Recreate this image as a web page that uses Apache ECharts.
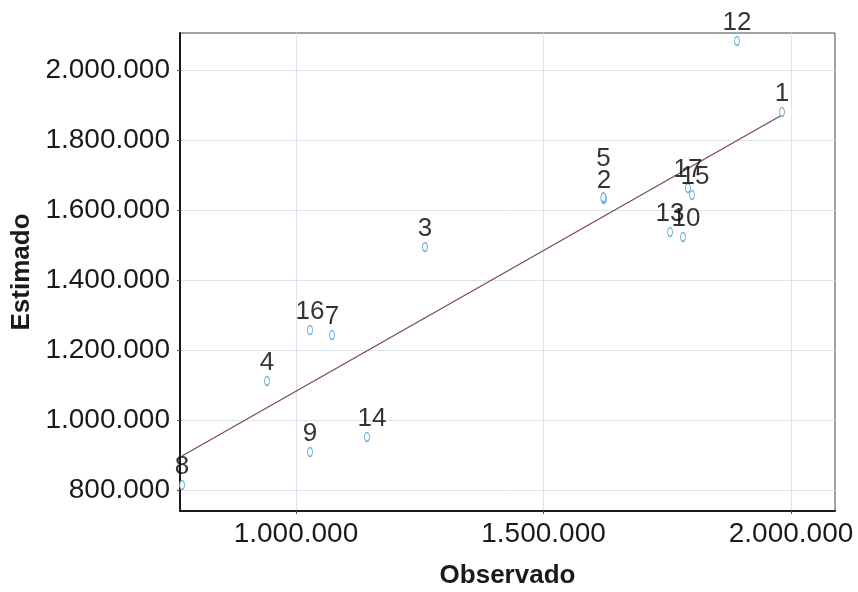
<!DOCTYPE html>
<html>
<head>
<meta charset="utf-8">
<script src="https://cdn.jsdelivr.net/npm/echarts@6/dist/echarts.min.js"></script>
<style>
  html, body { margin: 0; padding: 0; background: #ffffff; }
  #chart { width: 858px; height: 592px; }
</style>
</head>
<body>
<div id="chart"></div>
<script>
// Case numbers and their observed / estimated values
const pointIds  = ['1', '2', '3', '4', '5', '7', '8', '9', '10', '12', '13', '14', '15', '16', '17'];
const observed  = [1981800, 1622200, 1260600, 941400, 1621000, 1072700, 769700, 1028300, 1781800, 1890900, 1755600, 1143400, 1800000, 1028300, 1791900];
const estimated = [1880000, 1631400, 1494300, 1111500, 1636000, 1242900, 814300, 908600, 1522900, 2082900, 1537200, 951500, 1642900, 1257100, 1662900];

// Fitted line endpoints (observed -> estimated)
const fitObserved  = [769700, 1981800];
const fitEstimated = [897200, 1871400];

// Axis tick values
const xTicks = [1000000, 1500000, 2000000];
const yTicks = [800000, 1000000, 1200000, 1400000, 1600000, 1800000, 2000000];

// Extra label shifts where case labels pile up
const labelShift = { '5': [0, -20], '14': [5, 0], '15': [3, 0], '10': [3, 0] };

const fmt = v => String(Math.round(v)).replace(/\B(?=(\d{3})+(?!\d))/g, '.');

const ellipse = 'path://M0,5 A2.5,5 0 1,1 5,5 A2.5,5 0 1,1 0,5 Z';

const points = pointIds.map((id, i) => ({
  name: id,
  value: [observed[i], estimated[i]],
  label: labelShift[id] ? { offset: labelShift[id] } : undefined
}));

const chart = echarts.init(document.getElementById('chart'), null, { renderer: 'canvas' });

const fontFamily = '"Liberation Sans", Arial, Helvetica, sans-serif';

chart.setOption({
  animation: false,
  backgroundColor: '#ffffff',
  grid: {
    left: 180, right: 23, top: 33, bottom: 81,
    show: true, borderColor: '#444', borderWidth: 1,
    outerBoundsMode: 'none'
  },
  xAxis: {
    type: 'value',
    min: 765700, max: 2088900,
    name: 'Observado',
    nameLocation: 'middle',
    nameGap: 52,
    nameTextStyle: { fontFamily, fontSize: 26, fontWeight: 'bold', color: '#1a1a1a' },
    axisLine: { show: true, onZero: false, lineStyle: { color: '#1a1a1a', width: 2 } },
    axisTick: { show: true, length: 3, customValues: xTicks, lineStyle: { color: '#555' } },
    axisLabel: { customValues: xTicks, formatter: fmt, fontFamily, fontSize: 28, color: '#1a1a1a', margin: 9 },
    splitLine: { show: true, lineStyle: { color: '#dbe3ec', width: 1 } }
  },
  yAxis: {
    type: 'value',
    min: 740000, max: 2105700,
    name: 'Estimado',
    nameLocation: 'middle',
    nameGap: 145,
    nameTextStyle: { fontFamily, fontSize: 26, fontWeight: 'bold', color: '#1a1a1a' },
    axisLine: { show: true, onZero: false, lineStyle: { color: '#1a1a1a', width: 2 } },
    axisTick: { show: true, length: 3, customValues: yTicks, lineStyle: { color: '#555' } },
    axisLabel: { customValues: yTicks, formatter: fmt, fontFamily, fontSize: 28, color: '#1a1a1a', margin: 10 },
    splitLine: { show: true, lineStyle: { color: '#dbe3ec', width: 1 } }
  },
  series: [
    {
      type: 'line',
      data: fitObserved.map((x, i) => [x, fitEstimated[i]]),
      showSymbol: false,
      symbol: 'none',
      lineStyle: { color: '#7d4663', width: 1.3 },
      silent: true,
      z: 2
    },
    {
      type: 'scatter',
      data: points,
      symbol: ellipse,
      symbolSize: [5, 9],
      itemStyle: { color: '#ffffff', borderColor: '#4a9fcf', borderWidth: 1.2 },
      label: {
        show: true,
        position: 'top',
        distance: 0,
        formatter: p => p.name,
        fontFamily, fontSize: 26, color: '#000000'
      },
      z: 3
    }
  ]
});
</script>
</body>
</html>
